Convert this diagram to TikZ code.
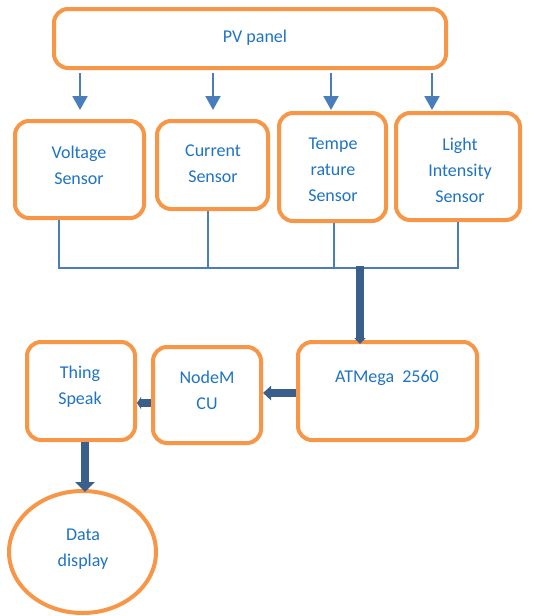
\documentclass[tikz,border=0pt]{standalone}
\usepackage{fontspec}
\setmainfont{Carlito}
\usetikzlibrary{arrows.meta,shapes.geometric}
\definecolor{orng}{HTML}{F79646}
\definecolor{txtblue}{HTML}{1F74C4}
\definecolor{thinblue}{HTML}{4A7EBB}
\definecolor{darkblue}{HTML}{3A5F8B}
\begin{document}
\begin{tikzpicture}[x=1pt,y=-1pt,
 box/.style={draw=orng,line width=4pt,rounded corners=14pt,fill=white,inner sep=0pt},
 oval/.style={draw=orng,line width=4pt,ellipse,fill=white,inner sep=0pt},
 lbl/.style={text=txtblue,font=\fontsize{18}{26}\selectfont,align=center,inner sep=0pt},
 thinarr/.style={draw=thinblue,line width=2pt,-{Triangle[width=15pt,length=14pt]}},
 bus/.style={draw=thinblue,line width=1.2pt},
 fatarr/.style={draw=darkblue,fill=darkblue,line width=8pt}]
\useasboundingbox (0,0) rectangle (534,616);
% boxes
\node[box,minimum width=392pt,minimum height=59pt] (pv) at (250,38.5) {};
\node[box,minimum width=129pt,minimum height=97pt] (vs) at (79.5,169.5) {};
\node[box,minimum width=111pt,minimum height=88pt] (cs) at (212.5,165) {};
\node[box,minimum width=107pt,minimum height=108pt] (tsen) at (332.5,167) {};
\node[box,minimum width=124pt,minimum height=107pt] (ls) at (458,166.5) {};
\node[box,minimum width=179pt,minimum height=98pt] (atm) at (387.5,391) {};
\node[box,minimum width=108pt,minimum height=96pt] (nm) at (207,395) {};
\node[box,minimum width=108pt,minimum height=98pt] (tsp) at (81,391) {};
\node[oval,minimum width=147pt,minimum height=122pt] (dd) at (82.5,552) {};
% labels
\node[lbl] (pvt) at (255,38) {PV panel};
\node[lbl] (vst) at (79,165) {Voltage\\Sensor};
\node[lbl] (cst) at (213,164) {Current\\Sensor};
\node[lbl] (tst) at (333,170) {Tempe\\rature\\Sensor};
\node[lbl] (lst) at (460,170) {Light\\Intensity\\Sensor};
\node[lbl] (atmt) at (387,378) {ATMega\ \ 2560};
\node[lbl] (nmt) at (207,390) {NodeM\\CU};
\node[lbl] (tspt) at (80,387) {Thing\\Speak};
\node[lbl] (ddt) at (83,549) {Data\\display};
% PV to sensors
\coordinate (a1) at (80,110);
\coordinate (a2) at (213,110);
\coordinate (a3) at (331,110);
\coordinate (a4) at (432,110);
\foreach \a in {a1,a2,a3,a4}
  \draw[thinarr,shorten <=3pt] (pv.south -| \a) -- (\a);
% bus
\coordinate (b1) at (59,268);
\coordinate (b2) at (208,268);
\coordinate (b3) at (334,268);
\coordinate (b4) at (458,268);
\draw[bus] (vs.south -| b1) -- (b1) -- (b4) -- (ls.south -| b4);
\draw[bus] (cs.south -| b2) -- (b2);
\draw[bus] (tsen.south -| b3) -- (b3);
% thick arrows
\coordinate (m1) at (360,266);
\draw[fatarr,-{Triangle[width=11pt,length=6pt]},shorten >=-4pt] (m1) -- (m1 |- atm.north);
\coordinate (r1) at (0,393);
\draw[fatarr,-{Triangle[width=14pt,length=8pt]}] (atm.west |- r1) -- (nm.east |- r1);
\coordinate (r2) at (0,403);
\draw[fatarr,-{Triangle[width=12pt,length=4pt]}] (nm.west |- r2) -- (tsp.east |- r2);
\coordinate (d1) at (85,0);
\draw[fatarr,-{Triangle[width=19pt,length=10pt]},shorten >=-3pt] (tsp.south -| d1) -- (dd.north -| d1);
\end{tikzpicture}
\end{document}
